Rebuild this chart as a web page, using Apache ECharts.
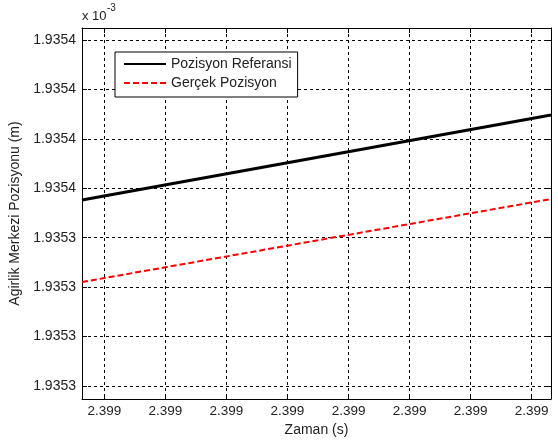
<!DOCTYPE html>
<html>
<head>
<meta charset="utf-8">
<script src="https://cdn.jsdelivr.net/npm/echarts@6/dist/echarts.min.js"></script>
<style>
  html, body { margin: 0; padding: 0; background: #fff; }
  #chart { width: 558px; height: 442px; }
</style>
</head>
<body>
<div id="chart"></div>
<script>
// tick positions are in tick-step units; the labels are what the plot shows
const xTickVals = [0, 1, 2, 3, 4, 5, 6, 7];
const xTickLabels = ["2.399", "2.399", "2.399", "2.399", "2.399", "2.399", "2.399", "2.399"];
const yTickVals = [0, 1, 2, 3, 4, 5, 6, 7];
const yTickLabels = ["1.9353", "1.9353", "1.9353", "1.9353", "1.9354", "1.9354", "1.9354", "1.9354"];

const xLimits = [-0.365, 7.316];
const yLimits = [-0.263, 7.243];

// series: value at left edge and right edge of the time window
const timeX = [-0.365, 7.316];
const refPos = [3.763, 5.483];
const realPos = [2.104, 3.783];

const font = "'Liberation Sans', Arial, Helvetica, sans-serif";
const ink = "#000";

function tickText(vals, labels) {
  return (v) => {
    const i = vals.findIndex((t) => Math.abs(t - v) < 1e-6);
    return i < 0 ? "" : labels[i];
  };
}

function pairs(xs, ys) {
  return xs.map((x, i) => [x, ys[i]]);
}

const gridLine = { show: true, lineStyle: { color: ink, width: 1, type: [3, 3] } };

function frameAxis(position, vals, lims, extra) {
  return Object.assign({
    type: "value",
    position: position,
    min: lims[0],
    max: lims[1],
    axisLine: { show: true, onZero: false, lineStyle: { color: ink, width: 1 } },
    axisTick: { show: true, inside: true, length: 5, customValues: vals, lineStyle: { color: ink } },
    axisLabel: { show: false },
    splitLine: { show: false },
  }, extra || {});
}

const chart = echarts.init(document.getElementById("chart"));
chart.setOption({
  animation: false,
  backgroundColor: "#fff",
  textStyle: { fontFamily: font },
  grid: { left: 82, top: 28, right: 7, bottom: 43, outerBoundsMode: "none", show: false },
  graphic: [
    { type: "text", left: 82, top: 10, style: { text: "x 10", fontFamily: font, fontSize: 13, fill: "#222" } },
    { type: "text", left: 107, top: 3, style: { text: "-3", fontFamily: font, fontSize: 10, fill: "#222" } },
  ],
  legend: {
    orient: "vertical",
    left: 115,
    top: 52,
    padding: [5, 6, 7, 8],
    itemWidth: 42,
    itemHeight: 14,
    itemGap: 5,
    backgroundColor: "#fff",
    borderColor: ink,
    borderWidth: 1,
    borderRadius: 0,
    itemStyle: { opacity: 0 },
    lineStyle: { opacity: 1 },
    textStyle: { fontFamily: font, fontSize: 14, color: "#222" },
    data: ["Pozisyon Referansi", "Gerçek Pozisyon"],
  },
  xAxis: [
    frameAxis("bottom", xTickVals, xLimits, {
      name: "Zaman (s)",
      nameLocation: "middle",
      nameGap: 24,
      nameTextStyle: { fontFamily: font, fontSize: 14, color: "#222" },
      axisLabel: {
        show: true,
        customValues: xTickVals,
        margin: 5,
        fontFamily: font,
        fontSize: 13.5,
        color: "#222",
        formatter: tickText(xTickVals, xTickLabels),
      },
      splitLine: gridLine,
    }),
    frameAxis("top", xTickVals, xLimits),
  ],
  yAxis: [
    frameAxis("left", yTickVals, yLimits, {
      name: "Agirlik Merkezi Pozisyonu (m)",
      nameLocation: "middle",
      nameGap: 56,
      nameTextStyle: { fontFamily: font, fontSize: 14, color: "#222" },
      axisLabel: {
        show: true,
        customValues: yTickVals,
        margin: 6,
        fontFamily: font,
        fontSize: 14,
        color: "#222",
        formatter: tickText(yTickVals, yTickLabels),
      },
      splitLine: gridLine,
    }),
    frameAxis("right", yTickVals, yLimits),
  ],
  series: [
    {
      name: "Pozisyon Referansi",
      type: "line",
      symbol: "none",
      data: pairs(timeX, refPos),
      lineStyle: { color: ink, width: 3 },
      itemStyle: { color: ink },
      z: 3,
    },
    {
      name: "Gerçek Pozisyon",
      type: "line",
      symbol: "none",
      data: pairs(timeX, realPos),
      lineStyle: { color: "#ff0000", width: 2, type: [6, 3] },
      itemStyle: { color: "#ff0000" },
      z: 3,
    },
  ],
});
</script>
</body>
</html>
